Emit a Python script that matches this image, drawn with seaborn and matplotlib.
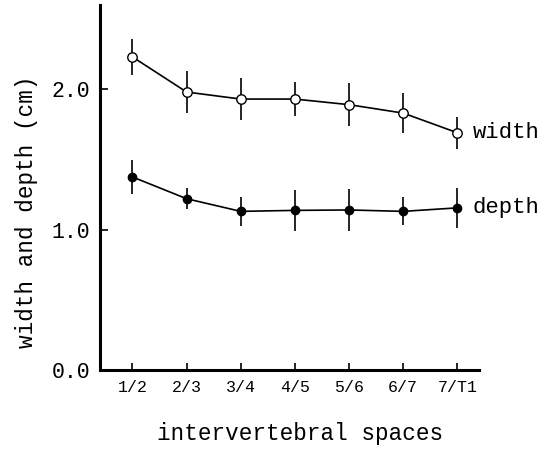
import matplotlib
matplotlib.use("Agg")
import matplotlib.pyplot as plt
import seaborn as sns
import numpy as np
import pandas as pd

categories = ["1/2", "2/3", "3/4", "4/5", "5/6", "6/7", "7/T1"]
width_mean = [2.23, 1.98, 1.93, 1.93, 1.89, 1.83, 1.69]
width_err = [0.13, 0.15, 0.15, 0.12, 0.155, 0.14, 0.115]
depth_mean = [1.375, 1.22, 1.13, 1.137, 1.14, 1.13, 1.155]
depth_err = [0.12, 0.075, 0.105, 0.145, 0.15, 0.10, 0.145]
y_ticks = [0.0, 1.0, 2.0]
y_ticklabels = ["0.0", "1.0", "2.0"]

sns.set_theme(style="ticks")
plt.rcParams["font.family"] = ["Liberation Mono", "DejaVu Sans Mono"]
plt.rcParams["text.color"] = "black"
plt.rcParams["axes.labelcolor"] = "black"
plt.rcParams["xtick.color"] = "black"
plt.rcParams["ytick.color"] = "black"

pos = np.arange(len(categories))
df = pd.DataFrame({
    "pos": np.concatenate([pos, pos]),
    "value": width_mean + depth_mean,
    "err": width_err + depth_err,
    "series": ["width"] * len(pos) + ["depth"] * len(pos),
})

fig = plt.figure(figsize=(5.5, 4.51), dpi=100)
ax = fig.add_axes([100 / 550, 1 - 370 / 451, 379 / 550, 365 / 451])

for name, face, ms in [("width", "white", 6.8), ("depth", "black", 6.0)]:
    sub = df[df["series"] == name]
    ax.errorbar(sub["pos"], sub["value"], yerr=sub["err"], fmt="none",
                ecolor="black", elinewidth=1.2, capsize=0, zorder=2)
    sns.lineplot(data=sub, x="pos", y="value", ax=ax, color="black",
                 linewidth=1.2, marker="o", markersize=ms,
                 markerfacecolor=face, markeredgecolor="black",
                 markeredgewidth=1.0, zorder=3, legend=False)
    last = sub.iloc[-1]
    ax.annotate(name, xy=(last["pos"], last["value"]), xytext=(11, 0),
                textcoords="offset points", va="center", ha="left",
                fontsize=16, color="black", annotation_clip=False)

ax.set_xlim(-0.6, 6.4)
ax.set_ylim(0, 2.6)
ax.set_xticks(pos)
ax.set_xticklabels(categories, fontsize=12)
ax.set_yticks(y_ticks)
ax.set_yticklabels(y_ticklabels, fontsize=15.5)
ax.tick_params(axis="y", direction="in", length=6, width=1.2, pad=7, colors="black")
ax.tick_params(axis="x", direction="in", length=5, width=1.2, pad=7, colors="black")

for s in ["top", "right"]:
    ax.spines[s].set_visible(False)
for s in ["left", "bottom"]:
    ax.spines[s].set_linewidth(2.2)
    ax.spines[s].set_color("black")

ax.set_xlabel("intervertebral spaces", fontsize=16.3, color="black")
ax.set_ylabel("width and depth (cm)", fontsize=16.3, color="black")
ax.xaxis.set_label_coords(0.528, -0.173)
ax.yaxis.set_label_coords(-0.195, 0.433)
ax.xaxis.label.set_va("center")
ax.yaxis.label.set_va("center")

fig.savefig("out.png", dpi=100)
